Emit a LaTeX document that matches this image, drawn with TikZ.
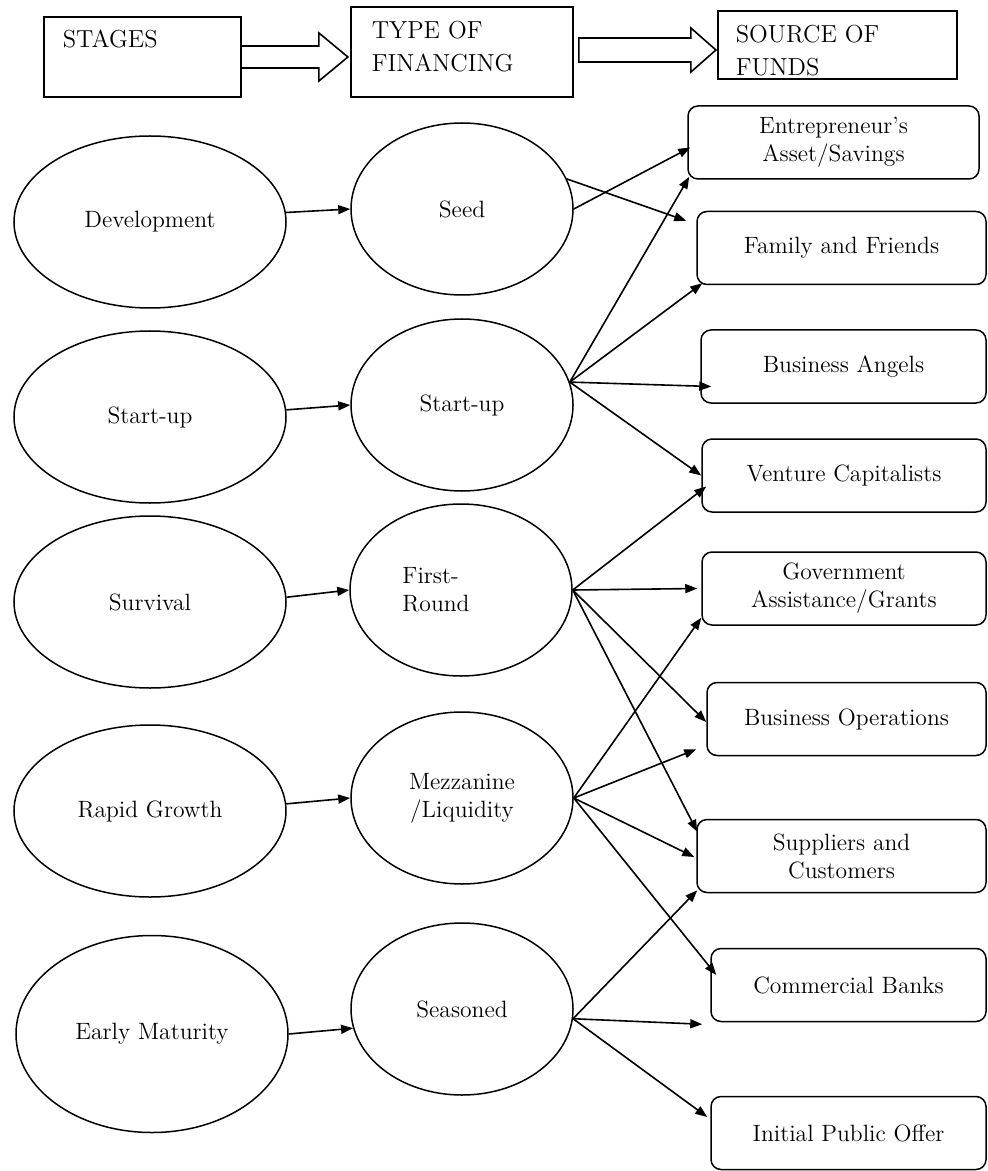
\documentclass[tikz,border=0pt]{standalone}
\usetikzlibrary{arrows.meta,shapes.geometric,calc}

\begin{document}
\begin{tikzpicture}[
    x=0.5pt, y=-0.5pt, line width=0.75pt,
    stage/.style={draw, ellipse, inner sep=0pt, minimum width=136pt, minimum height=86pt, font=\fontsize{11.8}{14}\selectfont},
    fin/.style={draw, ellipse, inner sep=0pt, minimum width=111pt, minimum height=86pt, align=center, font=\fontsize{11.8}{14}\selectfont},
    fund/.style={draw, rounded corners=5pt, align=center, minimum height=36.5pt, inner sep=2pt, font=\fontsize{11.8}{14}\selectfont},
    head/.style={draw, inner sep=0pt, line width=0.9pt},
    hlabel/.style={anchor=north west, align=left, inner xsep=9.5pt, inner ysep=6.5pt, font=\fontsize{12.3}{16.5}\selectfont},
    hollow/.style={line width=0.8pt, line join=miter},
    link/.style={-{Triangle[length=6pt, width=4.5pt]}, line width=0.8pt}
]
\useasboundingbox (0,0) rectangle (988,1171);

% header
\node[head, minimum width=98.5pt, minimum height=40pt, label={[hlabel]north west:STAGES}] (stg) at (142.5,57) {};
\node[head, minimum width=111pt, minimum height=45pt, label={[hlabel, inner xsep=10.5pt, inner ysep=7pt]north west:TYPE OF\\FINANCING}] (typ) at (462,52) {};
\node[head, minimum width=119.5pt, minimum height=34pt, label={[hlabel, inner xsep=9pt, inner ysep=7pt]north west:SOURCE OF\\FUNDS}] (src) at (837.5,45) {};
\draw[hollow] ($(stg.east)+(0,-11)$) -- ++(77,0) -- ++(0,-13) -- ++(29,24) -- ++(-29,24) -- ++(0,-13) -- ++(-77,0);
\draw[hollow] ($(typ.east)+(5,-14)$) -- ++(112,0) -- ++(0,-10) -- ++(25,22) -- ++(-25,22) -- ++(0,-10) -- ++(-112,0) -- cycle;

% stages
\node[stage] (dev) at (150,222) {Development};
\node[stage] (su1) at (150,417) {Start-up};
\node[stage] (sv) at (150,602) {Survival};
\node[stage] (rg) at (150,811) {Rapid Growth};
\node[stage, minimum height=98.5pt] (em) at (152,1034) {Early Maturity};

% type of financing
\node[fin] (seed) at (462,209) {Seed};
\node[fin] (su2) at (462,405) {Start-up};
\node[fin, align=left] (fr) at (461,590) {First-\\Round\rule{25pt}{0pt}};
\node[fin] (mz) at (462,798) {Mezzanine\\/Liquidity};
\node[fin] (ss) at (462,1009) {Seasoned};

% source of funds
\node[fund, minimum width=145.5pt] (ent) at (833.5,142.5) {Entrepreneur's\\Asset/Savings};
\node[fund, minimum width=144.5pt] (fam) at (841.5,248) {Family and Friends};
\node[fund, minimum width=142.5pt] (ang) at (843.5,366.5) {Business Angels};
\node[fund, minimum width=142pt] (ven) at (844,475.5) {Venture Capitalists};
\node[fund, minimum width=142pt] (gov) at (844,588.5) {Government\\Assistance/Grants};
\node[fund, minimum width=139.5pt] (ops) at (846.5,719) {Business Operations};
\node[fund, minimum width=144.5pt] (sup) at (841.5,856) {Suppliers and\\Customers};
\node[fund, minimum width=137.5pt] (ban) at (848.5,985) {Commercial Banks};
\node[fund, minimum width=137.5pt] (ipo) at (848.5,1133) {Initial Public Offer};

\draw[link] (dev.4) -- (seed.west);
\draw[link] (su1.3) -- (su2.west);
\draw[link] (sv.2) -- (fr.west);
\draw[link] (rg.3) -- (mz.west);
\draw[link] (em.east) -- (ss.190);

\draw[link] (seed.east) -- ($(ent.west)+(3,5)$);
\draw[link] (seed.16) -- ($(fam.north west)+(-10,10)$);
\draw[link] (su2.12) -- ($(ent.south west)+(2,-3)$);
\draw[link] (su2.12) -- ($(fam.south west)+(6,-2)$);
\draw[link] (su2.12) -- ($(ang.west)+(11,20)$);
\draw[link] (su2.12) -- (ven.west);
\draw[link] (fr.east) -- ($(ven.west)+(5,11)$);
\draw[link] (fr.east) -- ($(gov.west)+(-4,0)$);
\draw[link] (fr.east) -- ($(ops.west)+(0,3)$);
\draw[link] (fr.east) -- ($(sup.north west)+(1,13)$);
\draw[link] (mz.east) -- ($(gov.south west)+(0,-8)$);
\draw[link] (mz.east) -- ($(ops.south west)+(-10,-7)$);
\draw[link] (mz.east) -- ($(sup.west)+(-2,1)$);
\draw[link] (mz.east) -- ($(ban.west)+(6,-10)$);
\draw[link] (ss.-5) -- ($(sup.south west)+(1,-3)$);
\draw[link] (ss.-5) -- ($(ban.south west)+(-8,2)$);
\draw[link] (ss.-5) -- ($(ipo.west)+(-3,-16)$);
\end{tikzpicture}
\end{document}
